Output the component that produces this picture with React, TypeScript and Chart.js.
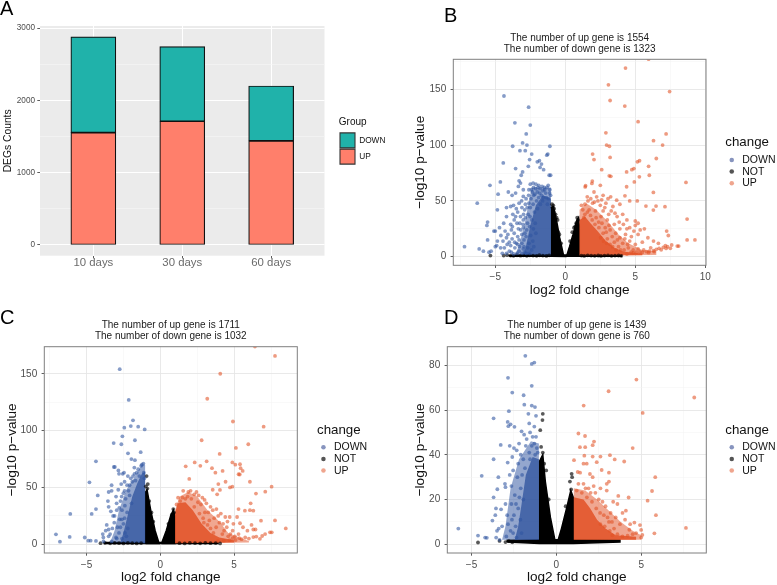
import React, { useEffect, useRef } from "react";
import { Chart, registerables } from "chart.js";
Chart.register(...registerables);

type P = [number, number];
const FONT = "'Liberation Sans', Arial, sans-serif";

// ---------- Panel A ----------
const barCategories = ["10 days", "30 days", "60 days"];
const barPositions = [1, 2, 3];
const barUp = [1554, 1711, 1439];
const barDown = [1323, 1032, 760];
const barYMajor = [0, 1000, 2000, 3000];
const barYMinor = [500, 1500, 2500];

// ---------- Panel B ----------
const bTitle = ["The number of up gene is 1554", "The number of down gene is 1323"];
const bXMajor = [-5, 0, 5, 10];
const bXMinor = [-7.5, -2.5, 2.5, 7.5];
const bYMajor = [0, 50, 100, 150];
const bYMinor = [25, 75, 125, 175];
const bDown: P[] = [[-4.38,144],[-2.62,134],[-3.6,120],[-2.5,118],[-2.79,110],[-3.05,102],[-3.76,99],[-2.74,100],[-1.1,99],[-3.24,95],[-2.86,95],[-2.4,92],[-1.25,92],[-1.32,91],[-2.55,87],[-2.0,85],[-1.85,86],[-1.7,83],[-4.43,84],[-3.55,79],[-2.64,81],[-1.8,80],[-1.55,78],[-3.05,76],[-3.15,73],[-1.15,73],[-1.05,73],[-4.64,67],[-5.38,64],[-3.3,68],[-3.2,66],[-3.35,63],[-2.5,65],[-2.3,66],[-2.1,65],[-1.9,64],[-3.0,60],[-6.29,48],[-4.8,56],[-4.07,58],[-3.8,55],[-3.55,57],[-2.6,60],[-2.35,58],[-1.5,62],[-1.3,62],[-1.1,60],[-1.05,55],[-3.0,54],[-2.8,52],[-3.3,48],[-3.7,46],[-4.2,44],[-3.9,45],[-3.1,44],[-4.85,42],[-2.6,48],[-2.9,42],[-3.4,40],[-3.75,38],[-4.2,36],[-3.55,36],[-3.0,33],[-3.45,30],[-3.9,29],[-4.4,30],[-5.55,31],[-5.6,28],[-4.7,26],[-5.1,23],[-5.0,23],[-4.3,23],[-3.85,24],[-3.35,25],[-3.0,26],[-4.6,19],[-4.2,17],[-3.8,16],[-5.55,15],[-4.85,14],[-3.4,18],[-3.1,20],[-2.95,15],[-3.5,12],[-3.9,10],[-4.9,10],[-5.0,9],[-7.2,9],[-6.15,7],[-5.85,5],[-5.45,4],[-5.3,5],[-4.5,3],[-4.0,5],[-3.6,8],[-3.3,5],[-3.0,7],[-3.7,2.5]];
const bDownDense: P[] = [[-2.7,30],[-2.65,38],[-2.5,44],[-2.45,52],[-2.25,55],[-2.0,58],[-1.8,61],[-1.6,59],[-2.75,24],[-2.8,18],[-2.6,12],[-2.95,9],[-2.4,6],[-2.2,40],[-2.05,50],[-1.7,55],[-1.4,57],[-1.2,52],[-2.3,47],[-2.15,30],[-3.2,36],[-3.1,12],[-3.25,30],[-2.85,35],[-2.55,27],[-3.3,15],[-4.1,20],[-3.65,21],[-4.0,13],[-3.45,3],[-2.9,4],[-2.42,60],[-2.27,62],[-2.12,61],[-1.95,62],[-1.82,57],[-1.66,63],[-1.47,60],[-1.22,64],[-1.12,57],[-1.35,53],[-1.58,53],[-1.9,53],[-2.18,56],[-2.62,55],[-2.85,47],[-2.98,38],[-2.72,44],[-2.52,36],[-2.38,33],[-2.28,25],[-2.47,19],[-2.32,14],[-2.68,8],[-2.88,21],[-3.02,29],[-3.18,24],[-3.27,9],[-3.08,3],[-3.4,11],[-2.78,3],[-2.55,3],[-2.25,9],[-2.1,21],[-1.98,43],[-1.78,47],[-1.62,50],[-1.28,47],[-3.12,50],[-3.5,43],[-3.65,33],[-3.78,27],[-3.62,13],[-4.15,11],[-4.35,8],[-3.85,4],[-4.2,3],[-4.62,8],[-4.45,14]];
const bNot: P[] = [[-0.86,46],[-0.92,44],[-0.8,43],[-0.95,47],[-0.7,38],[-0.62,35],[-0.55,33],[-0.82,40],[0.85,35],[0.9,33],[0.78,30],[0.7,27],[-0.5,22],[-0.42,20],[-0.3,12],[0.34,14],[0.5,22],[0.62,26],[-4.4,1],[-4.15,1.4],[-3.9,1],[-3.7,0.8],[-3.45,1.3],[-3.2,0.9],[-3.0,1.2],[-2.75,0.8],[-2.55,1.2],[-2.3,1],[-2.05,0.8],[-1.85,1.3],[-1.6,1],[-1.35,0.7],[-1.15,1.2],[1.15,1],[1.35,0.7],[1.6,1.2],[1.85,1],[2.1,0.8],[2.35,1.1],[2.55,0.7],[2.8,1],[3.05,1.2],[3.3,0.8],[3.55,1],[3.8,1.1],[4.0,0.8],[-5.35,1]];
const bUp: P[] = [[5.95,177],[4.3,169],[3.08,154],[7.45,148],[3.2,140],[4.25,135],[5.2,121],[2.9,111],[7.2,110],[6.3,104],[2.95,100],[3.15,99],[6.95,100],[1.95,92],[3.2,89],[2.05,87],[6.5,88],[5.3,86],[5.15,85],[4.9,79],[4.75,78],[5.95,81],[2.6,78],[3.14,72.5],[3.25,72],[4.38,76],[6.0,73],[5.29,71.6],[4.93,67],[4.38,62.7],[4.26,54.6],[6.29,57.6],[6.48,45.4],[6.29,41.8],[7.12,44.8],[5.76,45.4],[8.62,66.6],[8.7,33.7],[7.24,23],[7.36,19],[8.7,15],[9.26,15],[8.0,9.5],[8.1,9.5],[7.6,10.5],[7.5,7.5],[7.0,8.4],[6.5,6.6],[6.3,5.4],[5.8,4.5],[5.33,4.2],[4.86,3.6],[4.4,2.4],[1.45,63.6],[1.42,62.5],[1.93,67.8],[1.9,65.7],[2.5,64],[2.05,58],[1.57,53.7],[2.24,53.7],[2.7,55],[3.24,53.7]];
const bUpDense: P[] = [[3.67,50.7],[3.9,47],[4.6,50],[5.14,50],[3.4,45],[2.9,48],[2.5,46],[1.95,48],[1.4,47],[1.15,46],[1.25,42],[1.7,42],[2.15,41],[2.7,41],[3.1,38],[3.7,36],[4.1,38],[4.4,33],[5.0,32],[5.0,28],[5.2,30],[4.6,26],[4.9,23],[5.35,24],[5.65,25],[5.2,20],[5.9,17],[6.3,14],[6.65,12],[7.15,10],[5.5,13],[5.0,11],[4.6,14],[4.3,20],[3.9,25],[3.5,29],[3.0,33],[2.55,36],[2.2,35],[1.8,37],[1.4,38],[4.1,12],[3.9,17],[3.6,21],[3.2,24],[2.85,26],[4.5,8],[4.85,6],[5.2,7],[5.6,6],[6.0,5],[6.7,7.5],[7.3,9],[3.5,13],[3.8,9],[4.2,6],[2.4,26],[2.7,21],[3.0,16],[6.1,8],[1.62,50],[1.82,52],[2.08,49],[2.33,50],[2.6,51],[2.82,44],[3.05,52],[3.28,41],[3.55,39],[3.85,31],[4.15,29],[4.4,25],[4.72,18],[4.25,16],[4.45,11],[3.72,15],[3.35,18],[3.12,28],[2.92,22],[2.62,30],[2.38,31],[2.12,29],[1.92,33],[1.58,40],[1.32,35],[3.2,11],[3.38,9],[3.62,6],[3.95,6],[4.7,4],[5.08,4],[5.5,3.8],[5.95,3.6],[6.35,4.5],[6.85,6.2],[7.2,7.4],[2.95,12],[2.72,14],[2.52,17]];
const bDownCore: P[] = [[-1.03,1],[-1.03,52],[-1.6,55],[-2.1,46],[-2.5,28],[-2.8,10],[-3,1.5],[-1.03,1]];
const bDownHaze: P[] = [[-1.03,1],[-1.03,62],[-2.4,62],[-2.9,30],[-3.3,10],[-3.6,1.5],[-1.03,1]];
const bUpCore: P[] = [[1.02,1],[1.02,33],[1.4,36],[1.8,30],[2.3,23],[2.9,14],[3.5,8],[4.2,4.5],[5.5,2.8],[5.5,1.2],[1.02,1]];
const bUpHaze: P[] = [[1.02,1],[1.02,42],[1.5,48],[2.2,42],[3,32],[3.8,20],[4.5,12],[5.5,6],[6.5,5],[6.5,1.5],[1.02,1]];
const bNotLeft: P[] = [[-1,0.5],[-1,44],[-0.85,45],[-0.65,34],[-0.4,17],[-0.12,1],[-0.05,0.3],[-1,0.5]];
const bNotRight: P[] = [[0.08,0.3],[0.3,9],[0.55,20],[0.8,32],[0.95,35],[1,28],[1,0.5],[0.08,0.3]];
const bNotStrip: P[] = [[-4,0.5],[-1,0.5],[4,0.5],[4,1.2],[1,1.6],[-1,1.6],[-4,1.2],[-4,0.5]];

// ---------- Panel C ----------
const cTitle = ["The number of up gene is 1711", "The number of down gene is 1032"];
const cXMajor = [-5, 0, 5];
const cXMinor = [-7.5, -2.5, 2.5, 7.5];
const cYMajor = [0, 50, 100, 150];
const cYMinor = [25, 75, 125];
const cDown: P[] = [[-2.75,154],[-2.14,127],[-1.85,109],[-2.44,102.6],[-2.0,104],[-1.5,103.5],[-1.06,101],[-2.57,95],[-1.72,91.5],[-3.16,89],[-2.64,88],[-2.19,80],[-1.33,81],[-1.96,75],[-1.72,74],[-4.36,73],[-3.15,68],[-3.08,68],[-1.76,67.5],[-2.84,65],[-2.46,63],[-2.8,62],[-4.8,54.5],[-3.3,52],[-2.42,55],[-4.24,43],[-3.5,46],[-3.3,47],[-6.1,26.7],[-4.65,26.7],[-4.36,31],[-3.5,33],[-2.96,36],[-3.2,25],[-3.1,25],[-3.63,17],[-3.5,13],[-7.07,8.8],[-6.8,2.3],[-6.14,6.5],[-5.12,6],[-4.88,3.2],[-4.72,3.2],[-4.36,3],[-3.86,6],[-3.4,9],[-3.0,6],[-3.5,7],[-3.25,14],[-2.9,15],[-2.75,22]];
const cDownDense: P[] = [[-2.95,30],[-2.7,38],[-2.5,45],[-2.25,52],[-2.0,58],[-1.75,62],[-1.5,66],[-1.3,69],[-1.15,71],[-1.25,70],[-1.6,63],[-2.6,30],[-2.5,18],[-2.8,10],[-2.35,40],[-2.15,47],[-1.9,55],[-3.0,42],[-3.55,38],[-2.85,48],[-2.6,5],[-2.4,10],[-3.85,2.5],[-3.3,2.5],[-2.65,53],[-2.2,60],[-2.55,62],[-1.42,60],[-1.68,56],[-1.85,60],[-2.08,52],[-2.42,47],[-2.62,42],[-2.78,32],[-2.4,34],[-2.25,28],[-2.42,23],[-2.6,22],[-2.2,14],[-2.3,7],[-2.95,5],[-3.12,19],[-3.35,29],[-3.7,12],[-3.9,9],[-2.7,15],[-2.08,43],[-1.95,36],[-1.12,63],[-1.08,58]];
const cNot: P[] = [[-0.93,60],[-0.85,53],[-0.98,51],[-0.88,49],[-0.75,38],[-0.6,28],[-0.48,20],[0.88,31],[0.92,28],[0.78,26],[0.55,18],[-4.05,1],[-3.75,1.3],[-3.4,0.9],[-3.1,1.2],[-2.8,1],[-2.5,0.8],[-2.2,1.2],[-1.9,1],[-1.6,0.8],[-1.3,1.1],[1.3,1],[1.65,0.8],[2,1.2],[2.35,1],[2.7,0.9],[3.05,1.3],[3.4,1],[3.75,1.1],[4.05,0.8]];
const cUp: P[] = [[6.41,173.9],[7.77,165.7],[4.06,150],[3.18,128],[4.92,108],[7,103.5],[2.8,91.5],[5.12,84.8],[5.96,88],[4.02,79.5],[3.14,73],[2.33,72],[1.72,68.6],[2.71,69],[3.5,67],[3.73,63],[4.22,64.5],[4.88,72],[5.08,70],[5.4,70.4],[5.44,67],[5.58,64.5],[5.3,61.6],[5.38,61.4],[1.96,57.5],[3.93,53],[4.42,55],[4.72,50],[4.88,50.7],[6.07,55],[7.54,50.7],[7.11,46.3],[6.48,44.6],[4.04,47.8],[3.85,44],[3.55,48],[6.12,36],[5.73,29.6],[5.3,31],[6.07,30],[6.3,29.6],[6.82,20.8],[7.77,21],[8.5,14],[7.43,10.5],[7.55,10.5],[7.1,9],[6.9,7.3],[6.5,6.8],[6.3,13],[6.45,13],[6.18,17],[5.4,18.5],[4.95,18]];
const cUpDense: P[] = [[5.2,24],[4.7,24],[4.4,24],[4.1,27],[3.8,31],[3.4,33],[3.0,39],[2.6,43],[2.3,44],[1.9,46],[1.55,47],[2.1,40],[1.7,40],[1.35,38],[2.75,35],[3.25,28],[3.65,23],[4.0,19],[4.5,15],[4.9,12],[5.3,9],[5.75,6],[6.0,5],[5.5,4.5],[5.1,3.8],[4.7,3.6],[4.3,3.2],[3.9,3],[3.6,10],[3.2,17],[2.9,23],[4.2,9],[4.6,7],[4.9,5.5],[3.4,14],[5.6,15],[5.9,12],[2.05,47],[2.45,46],[2.85,41],[3.12,36],[3.55,30],[3.92,25],[4.25,18],[4.55,20],[4.32,12],[3.78,15],[3.32,21],[3.02,28],[2.55,37],[2.3,33],[1.85,42],[1.5,41],[1.2,41],[1.1,35],[4.75,9],[5.05,7],[5.35,5.4],[6.3,6.4],[6.75,4.8],[2.65,27],[2.95,19]];
const cDownCore: P[] = [[-1.03,1],[-1.03,64],[-1.25,62],[-1.55,54],[-1.9,42],[-2.2,26],[-2.5,10],[-2.7,2],[-1.03,1]];
const cDownHaze: P[] = [[-1.03,1],[-1.03,70],[-1.25,70],[-1.8,58],[-2.3,48],[-2.8,30],[-3.1,12],[-3.4,1.5],[-1.03,1]];
const cUpCore: P[] = [[1,1],[1,28],[1.2,36],[1.7,37],[2.2,30],[2.8,18],[3.4,10],[4,6],[5,3.5],[5,1.5],[1,1]];
const cUpHaze: P[] = [[1,1],[1,30],[1.3,42],[1.9,46],[2.5,42],[3.2,30],[4,20],[4.6,10],[5.5,5],[6,3],[6,1.5],[1,1]];
const cNotLeft: P[] = [[-1,0.8],[-1,46],[-0.9,48],[-0.65,30],[-0.35,12],[-0.08,0.8],[-1,0.8]];
const cNotRight: P[] = [[0.08,0.8],[0.4,12],[0.7,25],[0.88,30],[1,25],[1,0.8],[0.08,0.8]];
const cNotStrip: P[] = [[-3.8,0.6],[3.9,0.6],[3.9,1.5],[-3.8,1.5],[-3.8,0.6]];

// ---------- Panel D ----------
const dTitle = ["The number of up gene is 1439", "The number of down gene is 760"];
const dXMajor = [-5, 0, 5];
const dXMinor = [-2.5, 2.5, 7.5];
const dYMajor = [0, 20, 40, 60, 80];
const dYMinor = [10, 30, 50, 70];
const dDown: P[] = [[-1.83,84.2],[-1.45,80.6],[-1.3,81.2],[-2.85,74.4],[-1.45,70.8],[-2.6,67.8],[-1.93,66.6],[-1.89,62.4],[-1.45,62],[-1.26,61.3],[-2.8,59.5],[-3.7,56.3],[-1.65,58.3],[-1.2,57.4],[-2.87,54.7],[-2.7,53.6],[-2.83,52.8],[-2.47,52.5],[-1.6,54],[-1.3,52.6],[-2.05,50.5],[-1.9,49],[-1.55,50],[-1.4,48],[-1.2,48],[-3.28,44.4],[-2.5,43],[-2.34,42],[-3.7,38],[-2.87,36.5],[-4.4,30.6],[-3.42,30],[-3.03,27],[-3.0,25.5],[-3.48,24.6],[-2.65,26],[-3.7,21],[-3,18],[-3.56,16],[-3.26,15.6],[-3.77,10.6],[-3.6,13],[-5.78,7],[-4.62,3.9],[-4.2,3],[-4.1,2.9],[-3.4,7],[-3.5,6],[-3.2,8],[-3.55,3],[-3.35,2],[-2.95,3.5]];
const dDownDense: P[] = [[-2.7,6],[-2.5,13],[-2.65,18],[-2.45,22],[-2.75,31],[-2.55,33],[-2.3,30],[-2.25,36],[-2.1,40],[-1.8,44],[-1.45,44],[-1.15,43],[-2.4,8],[-2.25,16],[-2.85,9],[-2.55,5],[-2.35,3],[-2.1,25],[-1.95,38],[-1.6,41],[-2.6,39],[-2.75,44],[-2.2,45],[-1.75,47],[-1.3,45],[-1.55,38],[-1.85,34],[-2.02,31],[-2.18,21],[-2.38,18],[-2.12,11],[-1.95,20],[-2.62,11],[-2.9,13],[-2.05,5],[-1.1,41],[-1.25,40]];
const dNot: P[] = [[-0.8,58.3],[-0.82,55.5],[-0.95,51],[-0.9,43.5],[-0.8,41],[-0.72,36],[0.9,31.5],[0.93,30],[0.8,28],[0.87,24.5],[0.55,17],[-0.6,33],[-0.45,20],[-4.62,0.8],[-3.35,1.5],[-3.0,1],[-2.8,1.4],[-2.6,0.9]];
const dUp: P[] = [[4.72,73.6],[3.08,68.4],[8.13,65.6],[1.61,62],[5.09,58.7],[1.3,49.5],[1.69,48.4],[2.22,45.9],[2.14,44.3],[1.39,43.4],[1.7,43.4],[4.5,43],[1.65,39.6],[2.14,39.2],[2.6,39.2],[3.16,39.8],[3.44,37.9],[4.0,37],[1.04,37.6],[1.6,36],[1.79,36],[2.38,36.7],[2.67,33.2],[3.1,32],[1.26,32.3],[1.4,32],[5.83,30],[1.98,31.4],[2.14,30],[3.1,28],[2.97,27],[2.6,25],[5.64,23.8],[5.38,19.5],[5.87,13],[4.26,20.9],[3.65,21.6],[2.97,24],[3.35,19],[7.64,7.3],[5.78,4.9],[4.93,8.6],[4.6,9.7],[4.3,6.5],[5,6.4],[5.07,4.2],[5.0,3],[4.7,5]];
const dUpDense: P[] = [[1.3,27],[1.6,27],[1.9,25],[2.3,23],[2.5,20],[2.9,17],[3.2,14],[3.5,12],[3.9,14],[4.05,11],[3.75,9],[3.4,7],[3.1,10],[2.8,13],[3.6,18],[4.1,15],[4.35,9],[4.5,4.5],[4.2,3.8],[3.9,3.5],[3.6,4.5],[3.3,4],[1.2,24],[1.5,23],[1.8,21],[2.1,19],[2.35,16],[2.58,14],[2.72,19],[3.02,12],[3.28,10],[2.85,8],[2.6,9],[3.15,6],[1.72,25],[2.02,23],[2.2,26]];
const dDownCore: P[] = [[-1.03,2],[-1.03,38],[-1.4,39],[-1.8,31],[-2.05,18],[-2.25,8],[-2.45,2],[-1.03,2]];
const dDownHaze: P[] = [[-1.03,2],[-1.03,45],[-1.5,46],[-2.2,38],[-2.7,25],[-3,8],[-3.2,2],[-1.03,2]];
const dUpCore: P[] = [[1.03,2],[1.03,21],[1.6,20],[2.0,16],[2.4,11],[2.9,7],[3.5,4],[4.7,3.4],[4.7,2],[1.03,2]];
const dUpHaze: P[] = [[1.03,2],[1.03,25],[1.7,24],[2.4,20],[3.1,15],[3.8,10],[4.5,6],[5,4],[5,2],[1.03,2]];
const dNotLeft: P[] = [[-1,0.8],[-1,37],[-0.8,40],[-0.65,28],[-0.35,12],[-0.05,0.6],[-1,0.8]];
const dNotRight: P[] = [[0.05,0.6],[0.3,7],[0.6,16],[0.85,24],[1,21],[1,0.8],[0.05,0.6]];
const dNotStrip: P[] = [[-2.9,1],[-1,0.3],[1,0.3],[3.75,1],[3.75,1.9],[1,2],[-1,2],[-2.9,1.8],[-2.9,1]];

const xy = (pts: P[]) => pts.map(([x, y]) => ({ x, y }));

function setTicks(major: number[], minor: number[]) {
  return (axis: any) => {
    axis.ticks = [...major, ...minor].sort((a, b) => a - b).map((value) => ({ value }));
  };
}

function axisOptions(args: {
  major: number[]; minor: number[]; min: number; max: number; size: number; horizontal: boolean;
  title: any; tickFont: number; tickColor: string; majorGrid: string; minorGrid: string;
  majorW: number; minorW: number; labelOf: (v: number) => string; tickPad: number;
}) {
  const a = args;
  return {
    type: "linear",
    min: a.min,
    max: a.max,
    offset: false,
    afterBuildTicks: setTicks(a.major, a.minor),
    afterFit: (s: any) => { if (a.horizontal) s.height = a.size; else s.width = a.size; },
    border: { display: false },
    grid: {
      offset: false,
      color: (c: any) => (a.major.includes(c.tick?.value) ? a.majorGrid : a.minorGrid),
      lineWidth: (c: any) => (a.major.includes(c.tick?.value) ? a.majorW : a.minorW),
      tickColor: (c: any) => (a.major.includes(c.tick?.value) ? "#333333" : "rgba(0,0,0,0)"),
      tickWidth: 0.8,
      tickLength: 2.7,
    },
    ticks: {
      autoSkip: false, maxRotation: 0, minRotation: 0, padding: a.tickPad,
      color: a.tickColor,
      font: { family: FONT, size: a.tickFont },
      callback: (v: number) => (a.major.includes(v) ? a.labelOf(v) : ""),
    },
    title: a.title,
  };
}

function frame(bg: string | null, border: string | null) {
  return {
    id: "frame",
    beforeDraw(chart: any) {
      if (!bg) return;
      const { left, top, width, height } = chart.chartArea;
      chart.ctx.save(); chart.ctx.fillStyle = bg; chart.ctx.fillRect(left, top, width, height); chart.ctx.restore();
    },
    afterDraw(chart: any) {
      if (!border) return;
      const { left, top, width, height } = chart.chartArea;
      chart.ctx.save(); chart.ctx.strokeStyle = border; chart.ctx.lineWidth = 1; chart.ctx.strokeRect(left, top, width, height); chart.ctx.restore();
    },
  };
}
function placeLegend(x: number, y: number) {
  return {
    id: "placeLegend",
    afterLayout(chart: any) {
      const l = chart.legend;
      l.left = x; l.right = x + l.width + 30; l.top = y; l.bottom = y + 130;
    },
  };
}

const C_DOWN = "rgba(47,84,160,0.58)", C_NOT = "rgba(0,0,0,0.65)", C_UP = "rgba(226,82,38,0.58)";
const CORE_DOWN = "rgba(52,88,160,0.8)", CORE_UP = "rgba(226,84,42,0.88)";
const HAZE_DOWN = "rgba(60,95,165,0.55)", HAZE_UP = "rgba(228,95,55,0.55)";

interface Vol {
  canvas: [number, number, number, number];
  plot: [number, number, number, number];
  xr: [number, number]; yr: [number, number];
  xMajor: number[]; xMinor: number[]; yMajor: number[]; yMinor: number[];
  title: string[]; down: P[]; not: P[]; up: P[];
  cores: { d: P[]; dh: P[]; u: P[]; uh: P[]; l: P[]; r: P[]; s: P[] };
  yTitleX: number; legendX: number; legendY: number;
}

function poly(label: string, pts: P[], color: string) {
  return { type: "scatter", label, data: xy(pts), showLine: true, fill: "shape", backgroundColor: color, borderColor: "rgba(0,0,0,0)", borderWidth: 0, pointRadius: 0, tension: 0 };
}
function blackPoly(label: string, pts: P[]) {
  return { ...poly(label, pts, "#000000"), borderColor: "#000000", borderWidth: 1.5 };
}
const minusFmt = (v: number) => String(v).replace("-", "\u2212");

function volcano(canvas: HTMLCanvasElement, p: Vol) {
  const [cl, ct, cw, ch] = p.canvas;
  const [pl, pt, pr, pb] = p.plot;
  const titlePad = 5;
  const titleTop = pt - titlePad - 22 - ct;
  return new Chart(canvas, {
    type: "scatter",
    data: {
      datasets: [
        { label: "DOWN", data: xy(p.down), backgroundColor: C_DOWN, borderWidth: 0, pointRadius: 1.9 },
        { label: "NOT", data: xy(p.not), backgroundColor: C_NOT, borderWidth: 0, pointRadius: 1.9 },
        { label: "UP", data: xy(p.up), backgroundColor: C_UP, borderWidth: 0, pointRadius: 1.9 },
        poly("core-down", p.cores.d, CORE_DOWN),
        poly("haze-down", p.cores.dh, HAZE_DOWN),
        poly("core-up", p.cores.u, CORE_UP),
        poly("haze-up", p.cores.uh, HAZE_UP),
        blackPoly("core-left", p.cores.l),
        blackPoly("core-right", p.cores.r),
        blackPoly("core-strip", p.cores.s),
      ] as any,
    },
    options: {
      animation: false, responsive: false, maintainAspectRatio: false,
      layout: { padding: { left: 0, top: titleTop, right: cl + cw - pr, bottom: 0 } },
      scales: {
        x: axisOptions({
          major: p.xMajor, minor: p.xMinor, min: p.xr[0], max: p.xr[1], size: ct + ch - pb, horizontal: true,
          tickFont: 10, tickColor: "#4D4D4D", majorGrid: "#E6E6E6", minorGrid: "#F2F2F2", majorW: 0.9, minorW: 0.5,
          labelOf: minusFmt, tickPad: 3.5,
          title: { display: true, text: "log2 fold change", color: "#111", font: { family: FONT, size: 13.6 }, padding: { top: 0, bottom: ct + ch - pb > 33 ? 2 : 0 } },
        }),
        y: axisOptions({
          major: p.yMajor, minor: p.yMinor, min: p.yr[0], max: p.yr[1], size: pl - cl, horizontal: false,
          tickFont: 10, tickColor: "#4D4D4D", majorGrid: "#E6E6E6", minorGrid: "#F2F2F2", majorW: 0.9, minorW: 0.5,
          labelOf: String, tickPad: 4.4,
          title: { display: true, text: "\u2212log10 p\u2212value", color: "#111", font: { family: FONT, size: 13.6 }, padding: { top: p.yTitleX - cl - 8.2, bottom: 0 } },
        }),
      } as any,
      plugins: {
        tooltip: { enabled: false },
        title: { display: true, text: p.title, color: "#1A1A1A", fullSize: false, font: { family: FONT, size: 10, lineHeight: 1.1, weight: "normal" }, padding: { top: 0, bottom: titlePad } },
        legend: {
          display: true, position: "chartArea", align: "start",
          title: { display: true, text: "change", position: "start", color: "#111", font: { family: FONT, size: 13.3 }, padding: { top: 0, bottom: 1.5 } },
          labels: {
            usePointStyle: true, boxWidth: 13, boxHeight: 3.2, padding: 1.2, textAlign: "left", color: "#111",
            font: { family: FONT, size: 10.5 },
            generateLabels: () => [
              { text: "DOWN", fillStyle: "#8794BE", strokeStyle: "#8794BE", lineWidth: 0, pointStyle: "circle", hidden: false },
              { text: "NOT", fillStyle: "#555555", strokeStyle: "#555555", lineWidth: 0, pointStyle: "circle", hidden: false },
              { text: "UP", fillStyle: "#EFA58E", strokeStyle: "#EFA58E", lineWidth: 0, pointStyle: "circle", hidden: false },
            ],
          },
        } as any,
      },
    } as any,
    plugins: [frame(null, "#7F7F7F"), placeLegend(p.legendX - cl, p.legendY - ct)],
  } as any);
}

const panelB: Vol = {
  canvas: [400, 0, 377, 300], plot: [453.3, 59.3, 706, 265.3], xr: [-8, 10.05], yr: [-7.7, 176.9],
  xMajor: bXMajor, xMinor: bXMinor, yMajor: bYMajor, yMinor: bYMinor, title: bTitle, down: [...bDown, ...bDownDense], not: bNot, up: [...bUp, ...bUpDense],
  cores: { d: bDownCore, dh: bDownHaze, u: bUpCore, uh: bUpHaze, l: bNotLeft, r: bNotRight, s: bNotStrip }, yTitleX: 420, legendX: 725.3, legendY: 136,
};
const panelC: Vol = {
  canvas: [0, 300, 400, 285], plot: [44.3, 346.7, 297.3, 553], xr: [-7.86, 9.28], yr: [-7.65, 173.8],
  xMajor: cXMajor, xMinor: cXMinor, yMajor: cYMajor, yMinor: cYMinor, title: cTitle, down: [...cDown, ...cDownDense], not: cNot, up: [...cUp, ...cUpDense],
  cores: { d: cDownCore, dh: cDownHaze, u: cUpCore, uh: cUpHaze, l: cNotLeft, r: cNotRight, s: cNotStrip }, yTitleX: 12, legendX: 317, legendY: 423.3,
};
const panelD: Vol = {
  canvas: [400, 300, 377, 285], plot: [447.3, 346.7, 706.3, 553], xr: [-6.43, 8.84], yr: [-3.9, 88.3],
  xMajor: dXMajor, xMinor: dXMinor, yMajor: dYMajor, yMinor: dYMinor, title: dTitle, down: [...dDown, ...dDownDense], not: dNot, up: [...dUp, ...dUpDense],
  cores: { d: dDownCore, dh: dDownHaze, u: dUpCore, uh: dUpHaze, l: dNotLeft, r: dNotRight, s: dNotStrip }, yTitleX: 420, legendX: 725.3, legendY: 423.3,
};

function barChart(canvas: HTMLCanvasElement) {
  const common = { borderColor: "#111111", borderWidth: 1.2, barThickness: 45, borderSkipped: false, stack: "s" };
  return new Chart(canvas, {
    type: "bar",
    data: {
      datasets: [
        { label: "UP", data: barPositions.map((x, i) => ({ x, y: barUp[i] })), backgroundColor: "#FF7F6B", ...common },
        { label: "DOWN", data: barPositions.map((x, i) => ({ x, y: barDown[i] })), backgroundColor: "#20B2AA", ...common },
      ] as any,
    },
    options: {
      animation: false, responsive: false, maintainAspectRatio: false,
      layout: { padding: { left: 0, top: 26, right: 75.5, bottom: 0 } },
      scales: {
        x: {
          ...axisOptions({
            major: barPositions, minor: [], min: 0.4, max: 3.6, size: 34.3, horizontal: true,
            tickFont: 11.4, tickColor: "#6B6B6B", majorGrid: "#FFFFFF", minorGrid: "#FFFFFF", majorW: 1, minorW: 0.5,
            labelOf: (v) => barCategories[barPositions.indexOf(v)], tickPad: -2,
            title: { display: false },
          }),
          stacked: true,
        },
        y: {
          ...axisOptions({
            major: barYMajor, minor: barYMinor, min: -148, max: 3028, size: 40, horizontal: false,
            tickFont: 8.2, tickColor: "#4D4D4D", majorGrid: "#FFFFFF", minorGrid: "#F6F6F6", majorW: 1, minorW: 0.6,
            labelOf: String, tickPad: 2.3,
            title: { display: true, text: "DEGs Counts", color: "#111", font: { family: FONT, size: 10.3 }, padding: { top: 2, bottom: 0 } },
          }),
          stacked: true,
        },
      } as any,
      plugins: {
        tooltip: { enabled: false },
        title: { display: false },
        legend: {
          display: true, position: "chartArea", align: "start",
          title: { display: true, text: "Group", position: "start", color: "#111", font: { family: FONT, size: 10 }, padding: { top: 0, bottom: 2.7 } },
          labels: {
            boxWidth: 15, boxHeight: 15, padding: 1.2, textAlign: "left", color: "#111",
            font: { family: FONT, size: 8.3 },
            generateLabels: () => [
              { text: "DOWN", fillStyle: "#20B2AA", strokeStyle: "#333333", lineWidth: 1.1, hidden: false },
              { text: "UP", fillStyle: "#FF7F6B", strokeStyle: "#333333", lineWidth: 1.1, hidden: false },
            ],
          },
        } as any,
      },
    } as any,
    plugins: [frame("#EBEBEB", null), placeLegend(338.8, 117)],
  } as any);
}

const letters: [string, number, number][] = [["A", 0, -2], ["B", 444, 5], ["C", 0, 307], ["D", 444, 307]];

export default function App() {
  const a = useRef<HTMLCanvasElement>(null);
  const b = useRef<HTMLCanvasElement>(null);
  const c = useRef<HTMLCanvasElement>(null);
  const d = useRef<HTMLCanvasElement>(null);
  useEffect(() => {
    const charts = [barChart(a.current!), volcano(b.current!, panelB), volcano(c.current!, panelC), volcano(d.current!, panelD)];
    return () => charts.forEach((ch) => ch.destroy());
  }, []);
  const place = (l: number, t: number): React.CSSProperties => ({ position: "absolute", left: l, top: t, display: "block" });
  return (
    <div style={{ position: "absolute", left: 0, top: 0, width: 777, height: 585, overflow: "hidden", background: "#fff", filter: "blur(0.35px)" }}>
      <canvas ref={a} width={400} height={290} style={place(0, 0)} />
      <canvas ref={b} width={377} height={300} style={place(400, 0)} />
      <canvas ref={c} width={400} height={285} style={place(0, 300)} />
      <canvas ref={d} width={377} height={285} style={place(400, 300)} />
      {letters.map(([t, l, top]) => (
        <div key={t} style={{ position: "absolute", left: l, top, font: `20px/1 ${FONT}`, color: "#000" }}>{t}</div>
      ))}
    </div>
  );
}
